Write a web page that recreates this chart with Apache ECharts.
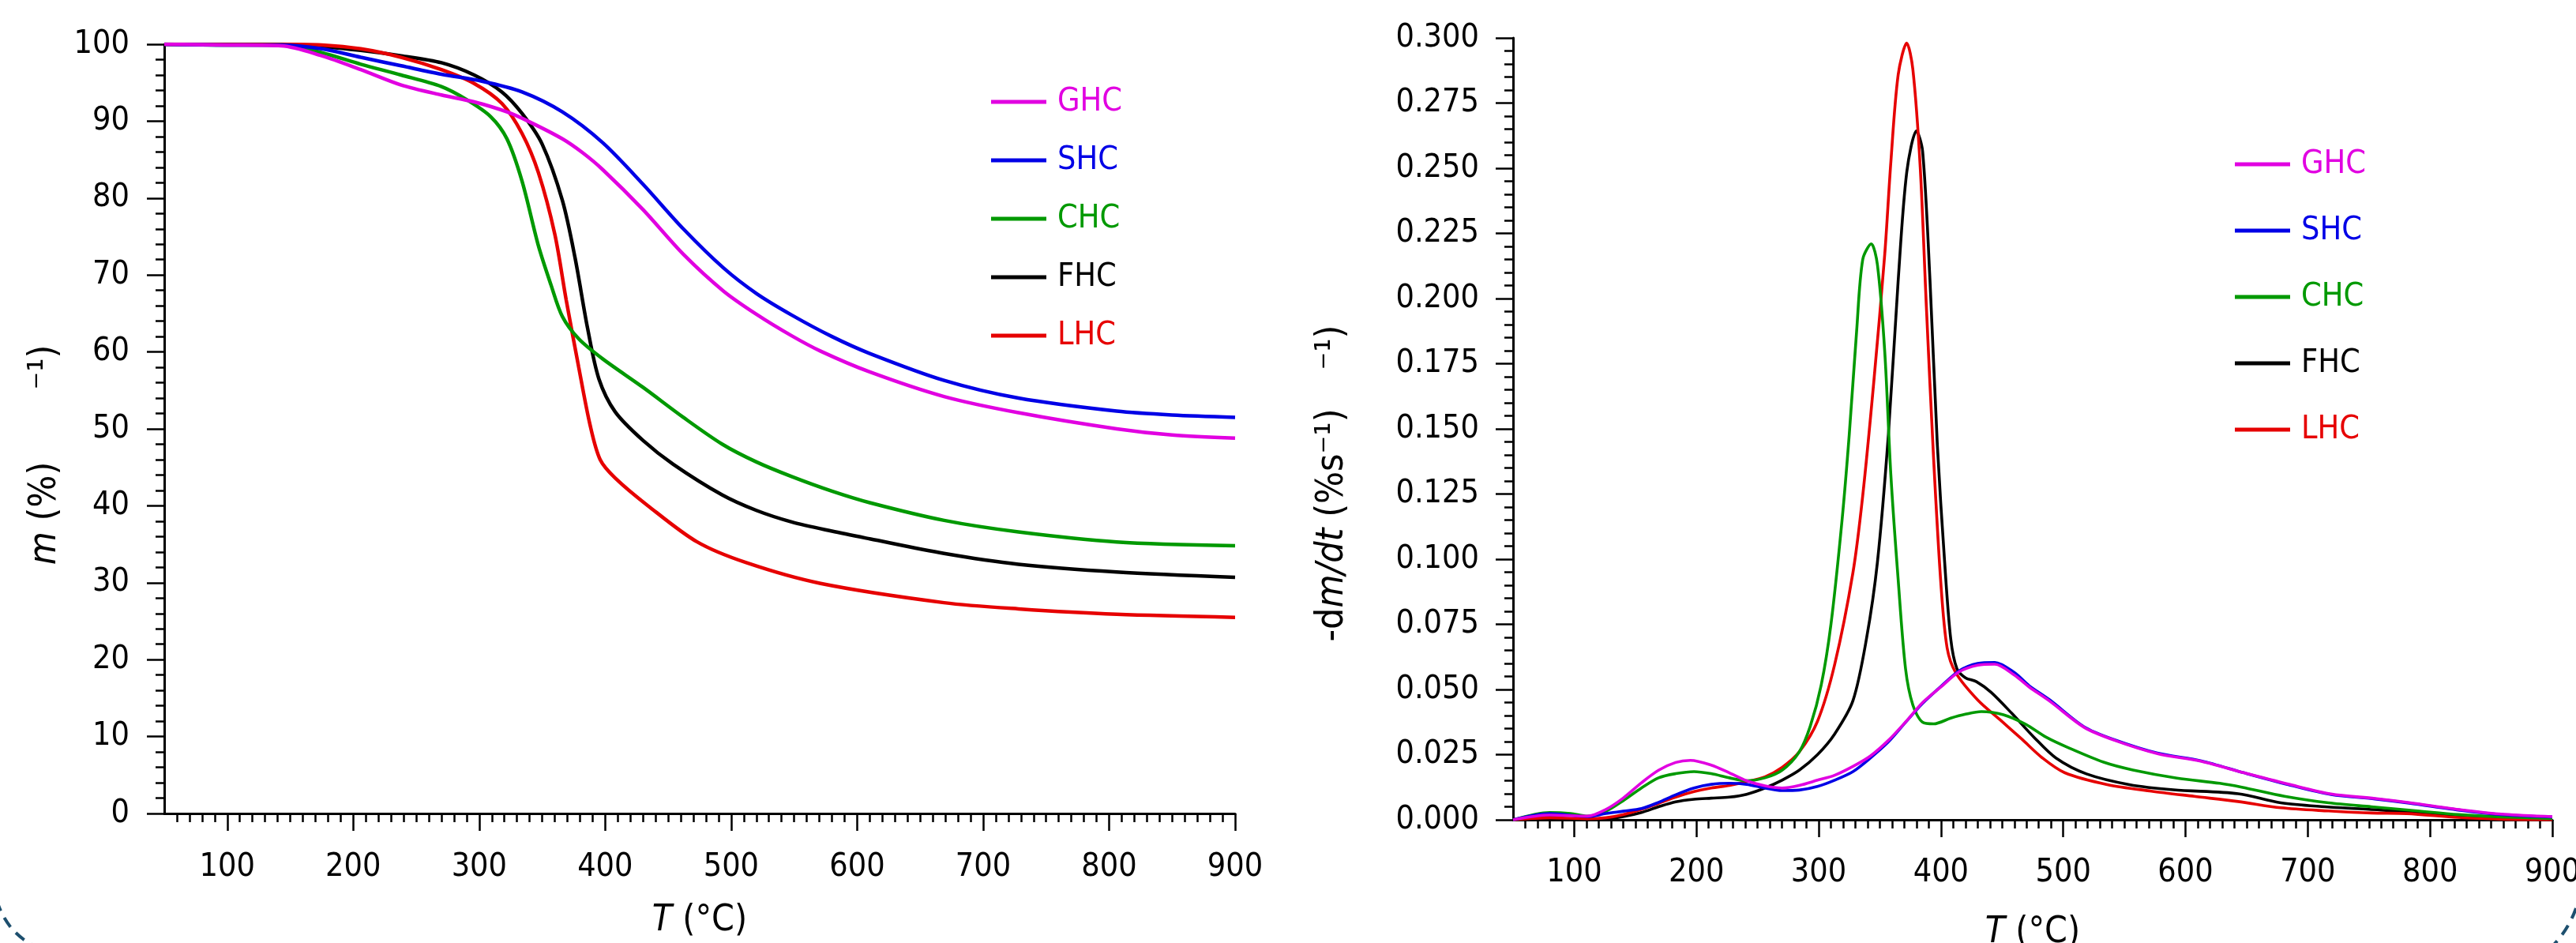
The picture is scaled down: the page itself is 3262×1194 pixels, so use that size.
<!DOCTYPE html>
<html>
<head>
<meta charset="utf-8">
<script src="https://cdn.jsdelivr.net/npm/echarts@6/dist/echarts.min.js"></script>
<style>
html,body{margin:0;padding:0;background:#fff;}
#chart{width:3262px;height:1194px;}
</style>
</head>
<body>
<div id="chart"></div>
<script>
// ---------- DATA ----------
const seriesNames = ['GHC', 'SHC', 'CHC', 'FHC', 'LHC'];
const seriesColors = { GHC: '#e100e1', SHC: '#0000e6', CHC: '#009900', FHC: '#000000', LHC: '#e60000' };

const xMajorTicks = [100, 200, 300, 400, 500, 600, 700, 800, 900];

// TG: [T (°C), m (%)]
const ghcTG = [[50,100],[100,99.9],[143,99.8],[175,98.5],[206,96.7],[238,94.7],[270,93.4],[296,92.5],[322,91.2],[340,89.9],[366,87.7],[382,85.9],[398,83.7],[430,78.5],[462,72.7],[494,67.9],[520,64.9],[548,62.1],[571,60.1],[610,57.4],[669,54.2],[728,52.1],[806,50.0],[850,49.2],[900,48.8]];
const shcTG = [[50,100],[100,99.9],[143,99.9],[175,99.4],[206,98.3],[238,97.2],[270,96.1],[302,95.2],[334,93.8],[366,91.2],[398,87.2],[430,81.8],[462,76.0],[494,70.9],[520,67.6],[548,64.8],[580,62.0],[610,59.8],[669,56.3],[728,54.0],[806,52.3],[850,51.8],[900,51.5]];
const chcTG = [[50,100],[100,99.9],[143,99.9],[175,98.9],[206,97.4],[238,96.0],[270,94.5],[290,92.8],[309,90.6],[322,87.7],[334,82.2],[347,73.8],[357,68.7],[366,64.6],[379,61.7],[398,59.1],[430,55.4],[462,51.5],[493,48.0],[520,45.7],[548,43.8],[580,41.9],[610,40.4],[669,38.1],[728,36.6],[806,35.3],[900,34.8]];
const fhcTG = [[50,100],[100,100],[143,100],[175,99.7],[206,99.2],[238,98.5],[270,97.6],[296,96.0],[318,93.8],[334,91.0],[350,87.0],[366,79.7],[376,72.3],[386,63.1],[395,56.5],[408,52.2],[430,48.5],[454,45.4],[493,41.4],[520,39.4],[548,37.9],[580,36.7],[610,35.7],[669,33.8],[728,32.4],[806,31.4],[900,30.7]];
const lhcTG = [[50,100],[100,100],[143,100],[175,99.9],[206,99.4],[238,98.3],[270,96.7],[296,94.9],[318,92.3],[334,88.4],[347,83.3],[360,75.3],[369,66.8],[379,58.0],[388,50.5],[396,46.0],[408,43.6],[434,40.0],[473,35.3],[512,32.6],[571,29.9],[669,27.4],[728,26.6],[806,25.9],[900,25.5]];

// DTG: [T (°C), -dm/dt (%/s)]
const ghcDTG = [[50,0],[80,0.0018],[111,0.0014],[126,0.004],[140,0.0083],[155,0.0142],[169,0.019],[183,0.022],[195,0.0228],[212,0.021],[227,0.018],[241,0.015],[256,0.013],[270,0.0122],[284,0.0132],[299,0.0152],[313,0.0171],[328,0.0205],[342,0.0244],[357,0.0305],[371,0.0375],[385,0.045],[400,0.051],[415,0.0568],[430,0.0593],[444,0.0597],[460,0.0555],[472,0.051],[489,0.0455],[517,0.0355],[542,0.0305],[577,0.0254],[613,0.0224],[648,0.018],[684,0.0137],[719,0.0099],[755,0.0082],[783,0.0066],[826,0.0038],[861,0.0021],[900,0.0012]];
const shcDTG = [[50,0],[80,0.0024],[111,0.0012],[126,0.0024],[140,0.0033],[155,0.0043],[169,0.0067],[183,0.0096],[198,0.0122],[212,0.0136],[227,0.014],[241,0.0136],[256,0.0122],[270,0.0112],[284,0.0114],[299,0.0128],[313,0.0152],[328,0.0185],[342,0.0236],[357,0.0299],[371,0.0374],[385,0.0447],[400,0.0512],[415,0.0572],[430,0.06],[444,0.0604],[460,0.0565],[472,0.0515],[489,0.046],[517,0.0357],[542,0.0307],[577,0.0256],[613,0.0226],[648,0.018],[684,0.0135],[719,0.0097],[755,0.008],[783,0.0064],[826,0.0036],[861,0.0019],[900,0.0011]];
const chcDTG = [[50,0],[80,0.0028],[97,0.0024],[111,0.0014],[126,0.0033],[140,0.0073],[155,0.0122],[169,0.0161],[183,0.0177],[198,0.0185],[212,0.0177],[227,0.0161],[241,0.015],[256,0.0161],[270,0.019],[284,0.026],[293,0.0358],[302,0.0516],[310,0.075],[319,0.1146],[325,0.148],[331,0.1875],[336,0.215],[343,0.221],[348,0.213],[354,0.1796],[359,0.1323],[365,0.092],[371,0.058],[377,0.044],[385,0.0374],[394,0.0368],[408,0.039],[420,0.0405],[433,0.0415],[451,0.0403],[469,0.0367],[486,0.0317],[504,0.0277],[533,0.0221],[557,0.0191],[593,0.016],[628,0.014],[646,0.0125],[681,0.009],[717,0.0065],[752,0.005],[788,0.0035],[823,0.002],[859,0.0011],[900,0.0005]];
const fhcDTG = [[50,0],[80,0.0014],[97,0.0018],[111,0.0004],[126,0.0004],[140,0.0012],[155,0.0028],[169,0.005],[183,0.0069],[198,0.0079],[212,0.0083],[227,0.0087],[241,0.0098],[256,0.0122],[270,0.0152],[284,0.019],[299,0.025],[313,0.0329],[328,0.0457],[339,0.0693],[348,0.0988],[357,0.148],[365,0.207],[372,0.2485],[380,0.2643],[385,0.2564],[391,0.207],[397,0.144],[403,0.0988],[408,0.0693],[413,0.058],[420,0.0545],[429,0.053],[441,0.0489],[458,0.0408],[476,0.0317],[494,0.0237],[519,0.0176],[554,0.0135],[590,0.0115],[643,0.010],[678,0.0065],[714,0.005],[750,0.004],[785,0.003],[820,0.0016],[860,0.0006],[900,0.0001]];
const lhcDTG = [[50,0],[80,0.0008],[111,0.0004],[126,0.0008],[140,0.002],[155,0.004],[169,0.0063],[183,0.0087],[198,0.0108],[212,0.0122],[227,0.0132],[241,0.0146],[256,0.0165],[270,0.0201],[284,0.026],[299,0.0378],[313,0.0595],[328,0.0949],[336,0.1244],[345,0.1678],[354,0.217],[359,0.2524],[365,0.2859],[372,0.298],[377,0.2879],[383,0.2505],[388,0.1973],[394,0.1382],[400,0.09],[405,0.066],[412,0.0565],[430,0.046],[448,0.0385],[466,0.031],[483,0.0237],[501,0.0181],[536,0.0135],[572,0.011],[607,0.009],[643,0.007],[678,0.0046],[717,0.0034],[752,0.0026],[781,0.0024],[823,0.0009],[860,0.0002],[900,0]];

// ---------- CHART ----------
const FONT = "'DejaVu Sans Condensed', 'DejaVu Sans', sans-serif";
const xMinorTicks = [];
for (let v = 60; v < 900; v += 10) xMinorTicks.push(v);

const chart = echarts.init(document.getElementById('chart'), null, { renderer: 'canvas' });

function mainX(gridIndex, nameGap, labelMargin) {
  return {
    type: 'value', gridIndex, min: 50, max: 900, position: 'bottom',
    name: '{i|T} (°C)', nameLocation: 'middle', nameGap,
    nameTextStyle: { fontSize: 46, fontFamily: FONT, color: '#000',
      rich: { i: { fontSize: 46, fontFamily: FONT, fontStyle: 'italic', color: '#000' } } },
    axisLine: { show: true, onZero: false, lineStyle: { color: '#000', width: 3 } },
    axisTick: { show: true, customValues: xMajorTicks, length: 22, lineStyle: { color: '#000', width: 2.5 } },
    axisLabel: { show: true, customValues: xMajorTicks, margin: labelMargin, fontSize: 41, fontFamily: FONT, color: '#000' },
    splitLine: { show: false }
  };
}
function minorX(gridIndex) {
  return {
    type: 'value', gridIndex, min: 50, max: 900, position: 'bottom', offset: 0,
    axisLine: { show: false, onZero: false },
    axisTick: { show: true, customValues: xMinorTicks, length: 11, lineStyle: { color: '#000', width: 2.5 } },
    axisLabel: { show: false },
    splitLine: { show: false }
  };
}

const series = [];
const tgMap = { GHC: ghcTG, SHC: shcTG, CHC: chcTG, FHC: fhcTG, LHC: lhcTG };
const dtgMap = { GHC: ghcDTG, SHC: shcDTG, CHC: chcDTG, FHC: fhcDTG, LHC: lhcDTG };
const drawOrder = ['FHC', 'LHC', 'CHC', 'SHC', 'GHC'];
drawOrder.forEach(n => {
  series.push({ name: n, type: 'line', xAxisIndex: 0, yAxisIndex: 0, data: tgMap[n],
    showSymbol: false, symbol: 'none', smooth: 0.3,
    lineStyle: { color: seriesColors[n], width: 4.5 }, itemStyle: { color: seriesColors[n] } });
});
drawOrder.forEach(n => {
  series.push({ name: n, type: 'line', xAxisIndex: 2, yAxisIndex: 1, data: dtgMap[n],
    showSymbol: false, symbol: 'none', smooth: 0.3,
    lineStyle: { color: seriesColors[n], width: 3.6 }, itemStyle: { color: seriesColors[n] } });
});

function legendCfg(left, top, gap) {
  return {
    orient: 'vertical', left, top, itemWidth: 70, itemHeight: 5, icon: 'rect', itemGap: gap,
    selectedMode: false,
    textStyle: { fontSize: 41, fontFamily: FONT, lineHeight: 50, padding: [0, 0, 0, 9] },
    data: seriesNames.map(n => ({ name: n, textStyle: { color: seriesColors[n] } }))
  };
}

const option = {
  animation: false,
  backgroundColor: '#ffffff',
  grid: [
    { left: 208, top: 56, width: 1356, height: 974, containLabel: false, outerBoundsMode: 'none' },
    { left: 1916, top: 48, width: 1316, height: 990, containLabel: false, outerBoundsMode: 'none' }
  ],
  legend: [legendCfg(1250, 99, 24), legendCfg(2825, 178, 34)],
  xAxis: [mainX(0, 113, 48), minorX(0), mainX(1, 120, 47), minorX(1)],
  yAxis: [
    { type: 'value', gridIndex: 0, min: 0, max: 100, interval: 10,
      axisLine: { show: true, lineStyle: { color: '#000', width: 3 } },
      axisTick: { show: true, length: 22, lineStyle: { color: '#000', width: 2.5 } },
      minorTick: { show: true, splitNumber: 5, length: 11, lineStyle: { color: '#000', width: 2.5 } },
      axisLabel: { margin: 44, fontSize: 41, fontFamily: FONT, color: '#000' },
      splitLine: { show: false }, minorSplitLine: { show: false } },
    { type: 'value', gridIndex: 1, min: 0, max: 0.3, interval: 0.025,
      axisLine: { show: true, lineStyle: { color: '#000', width: 3 } },
      axisTick: { show: true, length: 22, lineStyle: { color: '#000', width: 2.5 } },
      minorTick: { show: true, splitNumber: 5, length: 11, lineStyle: { color: '#000', width: 2.5 } },
      axisLabel: { margin: 43, fontSize: 41, fontFamily: FONT, color: '#000', formatter: v => v.toFixed(3) },
      splitLine: { show: false }, minorSplitLine: { show: false } }
  ],
  graphic: [
    { type: 'text', x: 58, y: 650, rotation: Math.PI / 2,
      style: { text: '{i|m} (%)', fontSize: 48, fontFamily: FONT, fill: '#000', align: 'center', verticalAlign: 'middle',
        rich: { i: { fontSize: 48, fontFamily: FONT, fontStyle: 'italic', fill: '#000' } } } },
    { type: 'text', x: 58, y: 465, rotation: Math.PI / 2,
      style: { text: '⁻¹)', fontSize: 48, fontFamily: FONT, fill: '#000', align: 'center', verticalAlign: 'middle' } },
    { type: 'text', x: 1688, y: 665, rotation: Math.PI / 2,
      style: { text: '-d{i|m/dt} (%s⁻¹)', fontSize: 48, fontFamily: FONT, fill: '#000', align: 'center', verticalAlign: 'middle',
        rich: { i: { fontSize: 48, fontFamily: FONT, fontStyle: 'italic', fill: '#000' } } } },
    { type: 'text', x: 1688, y: 440, rotation: Math.PI / 2,
      style: { text: '⁻¹)', fontSize: 48, fontFamily: FONT, fill: '#000', align: 'center', verticalAlign: 'middle' } },
    { type: 'bezierCurve', shape: { x1: -4, y1: 1140, x2: 44, y2: 1198, cpx1: 8, cpy1: 1180 },
      style: { stroke: '#1d4f6e', lineWidth: 4, lineDash: [14, 10], fill: null } },
    { type: 'bezierCurve', shape: { x1: 3262, y1: 1150, x2: 3232, y2: 1198, cpx1: 3252, cpy1: 1178 },
      style: { stroke: '#1d4f6e', lineWidth: 4, lineDash: [14, 10], fill: null } }
  ],
  series
};
chart.setOption(option);
</script>
</body>
</html>
